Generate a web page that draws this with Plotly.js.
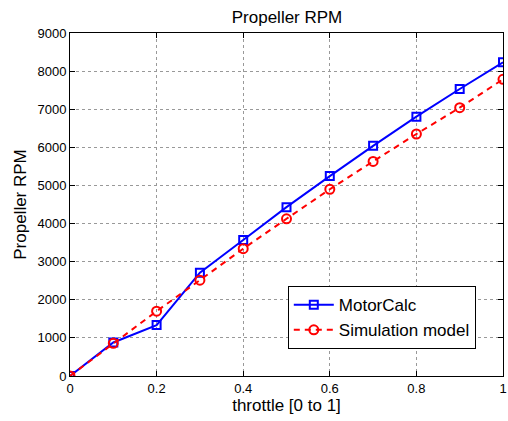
<!DOCTYPE html>
<html><head><meta charset="utf-8">
<script src="https://cdn.plot.ly/plotly-3.0.1.min.js"></script>
<style>html,body{margin:0;padding:0;background:#fff}#c{width:508px;height:421px}</style>
</head><body><div id="c"></div>
<script>
const throttle = [0, 0.1, 0.2, 0.3, 0.4, 0.5, 0.6, 0.7, 0.8, 0.9, 1.0];
const motorCalc = [0, 880, 1335, 2710, 3570, 4430, 5245, 6040, 6805, 7530, 8230];
const simModel = [0, 858, 1700, 2515, 3340, 4125, 4900, 5630, 6350, 7040, 7785];
const xTicks = [0, 0.2, 0.4, 0.6, 0.8, 1];
const xTickText = ['0', '0.2', '0.4', '0.6', '0.8', '1'];
const yTicks = [0, 1000, 2000, 3000, 4000, 5000, 6000, 7000, 8000, 9000];

const font = 'Liberation Sans, Arial, sans-serif';
const traces = [
  {x: throttle, y: motorCalc, name: 'MotorCalc', mode: 'lines+markers',
   line: {color: '#0000ff', width: 2},
   marker: {symbol: 'square-open', size: 8, color: '#0000ff', line: {width: 2, color: '#0000ff'}}},
  {x: throttle, y: simModel, name: 'Simulation model', mode: 'lines+markers',
   line: {color: '#ff0000', width: 2, dash: '6px,5px'},
   marker: {symbol: 'circle-open', size: 9, color: '#ff0000', line: {width: 2, color: '#ff0000'}}}
];
const axisCommon = {
  showline: true, linecolor: '#000', linewidth: 1, mirror: 'ticks',
  ticks: 'inside', ticklen: 5, tickcolor: '#000', tickwidth: 1,
  showgrid: true, gridcolor: '#999999', griddash: 'dot', gridwidth: 1,
  zeroline: false, tickfont: {family: font, size: 13, color: '#000'}
};
const layout = {
  width: 508, height: 421,
  margin: {l: 70, r: 5, t: 33, b: 45},
  paper_bgcolor: '#fff', plot_bgcolor: '#fff',
  title: {text: 'Propeller RPM', font: {family: font, size: 17, color: '#000'},
    x: 0.565, xref: 'container', xanchor: 'center', y: 0.96, yref: 'container', yanchor: 'middle'},
  xaxis: Object.assign({}, axisCommon, {range: [0, 1], tickvals: xTicks, ticktext: xTickText,
    title: {text: 'throttle [0 to 1]', font: {family: font, size: 17, color: '#000'}, standoff: 2}}),
  yaxis: Object.assign({}, axisCommon, {range: [0, 9000], tickvals: yTicks,
    title: {text: 'Propeller RPM', font: {family: font, size: 17, color: '#000'}, standoff: 6}}),
  showlegend: true,
  legend: {x: 0.503, y: 0.262, xanchor: 'left', yanchor: 'top', bgcolor: '#fff', bordercolor: '#000', borderwidth: 1,
    font: {family: font, size: 17, color: '#000'}, tracegroupgap: 0, itemwidth: 40}
};
Plotly.newPlot('c', traces, layout, {displayModeBar: false, staticPlot: true});
</script></body></html>
